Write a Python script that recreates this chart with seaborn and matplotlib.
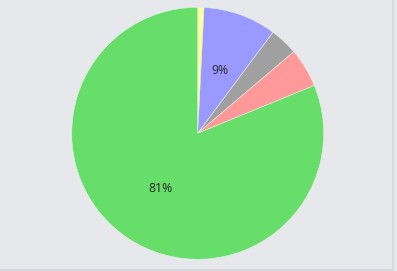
import matplotlib
matplotlib.use("Agg")
import matplotlib.pyplot as plt
import seaborn as sns
from matplotlib.lines import Line2D

sns.set_theme(style="white")
plt.rcParams['font.family'] = ['Open Sans', 'DejaVu Sans']

categories = ["Yellow", "Blue", "Gray", "Pink", "Green"]
values = [0.8, 9.4, 3.6, 5.0, 81.2]
colors = ["#ffff99", "#9999ff", "#a0a0a0", "#ff9999", "#68de6a"]

bg = "#e7e8ec"
fig = plt.figure(figsize=(3.97, 2.71), dpi=100)
fig.patch.set_facecolor(bg)

ax = fig.add_axes([0.1806, 0.0432, 0.6348, 0.9299])
ax.set_facecolor(bg)

def fmt(p):
    return "%d%%" % int(p) if p > 8 else ""

wedges, texts, autotexts = ax.pie(
    values, colors=colors, startangle=90, counterclock=False,
    autopct=fmt, pctdistance=0.53, radius=1.0,
    wedgeprops=dict(edgecolor="#e6f0e6", linewidth=0.4),
    textprops=dict(fontsize=8.8, color="#2a2a2a"),
)
ax.set_xlim(-1, 1)
ax.set_ylim(-1, 1)
ax.set_aspect("equal")
ax.axis("off")

# light frame on right and bottom edges
fig.add_artist(Line2D([392.5 / 397, 392.5 / 397], [2 / 271, 1.0], transform=fig.transFigure,
                      color="#d3d6da", linewidth=1.2))
fig.add_artist(Line2D([0, 393 / 397], [1.5 / 271, 1.5 / 271], transform=fig.transFigure,
                      color="#d3d6da", linewidth=1.2))

fig.savefig("out.png", dpi=100, facecolor=bg)
